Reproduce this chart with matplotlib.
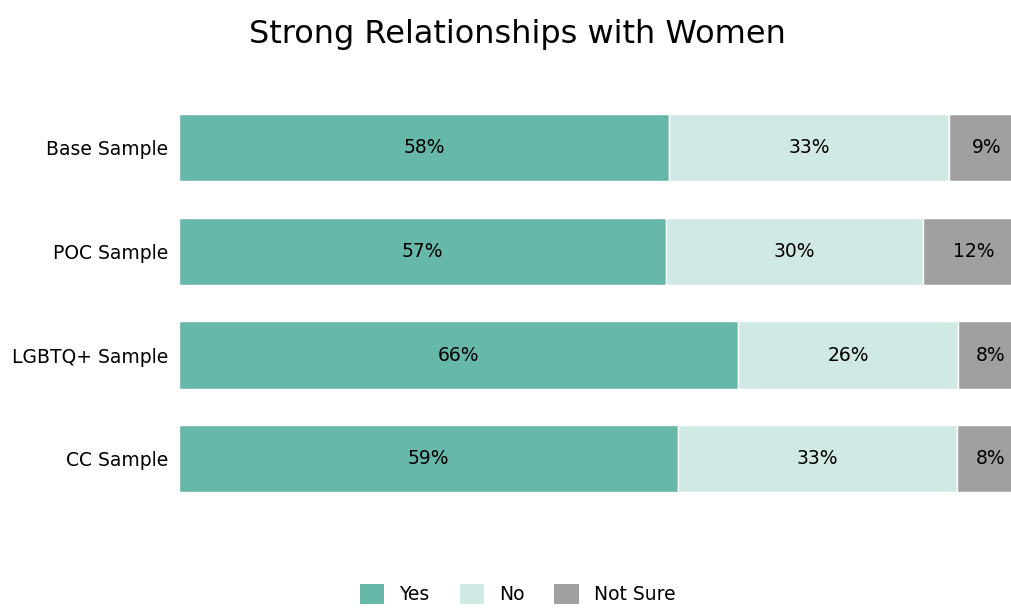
import matplotlib
matplotlib.use("Agg")
import matplotlib.pyplot as plt
from matplotlib.patches import Patch

plt.rcParams["font.family"] = ["DejaVu Sans"]

groups = ["Base Sample", "POC Sample", "LGBTQ+ Sample", "CC Sample"]
yes = [0.58, 0.576, 0.662, 0.59]
no = [0.331, 0.305, 0.260, 0.331]
not_sure = [0.089, 0.118, 0.078, 0.079]
labels_yes = ["58%", "57%", "66%", "59%"]
labels_no = ["33%", "30%", "26%", "33%"]
labels_ns = ["9%", "12%", "8%", "8%"]

series_names = ["Yes", "No", "Not Sure"]
colors = ["#66b8a8", "#d1e9e4", "#a0a0a0"]

fig = plt.figure(figsize=(10.11, 6.10), dpi=100)
ax = fig.add_axes([179 / 1011, 0.163, 845 / 1011, 0.68])

ypos = list(range(len(groups)))
left = [0.0] * len(groups)
for vals, labs, col in zip([yes, no, not_sure], [labels_yes, labels_no, labels_ns], colors):
    ax.barh(ypos, vals, left=left, height=0.65, color=col, edgecolor="white", linewidth=1)
    for y, l, v, t in zip(ypos, left, vals, labs):
        ax.text(l + v / 2, y, t, ha="center", va="center", fontsize=13.5, color="black")
    left = [a + b for a, b in zip(left, vals)]

ax.set_xlim(0, 1)
ax.set_ylim(3.5, -0.5)
ax.set_yticks(ypos)
ax.set_yticklabels(groups, fontsize=13.5)
ax.set_xticks([])
ax.tick_params(axis="y", length=0, pad=7.5)
for s in ax.spines.values():
    s.set_visible(False)

fig.suptitle("Strong Relationships with Women", fontsize=23, x=0.512, y=0.943, va="center")

handles = [Patch(facecolor=c, edgecolor="none") for c in colors]
fig.legend(handles, series_names, loc="center", bbox_to_anchor=(0.512, 0.026), ncol=3,
           frameon=False, fontsize=13.5, handlelength=1.3, handleheight=1.3, columnspacing=1.6)

fig.savefig("out.png", dpi=100)
